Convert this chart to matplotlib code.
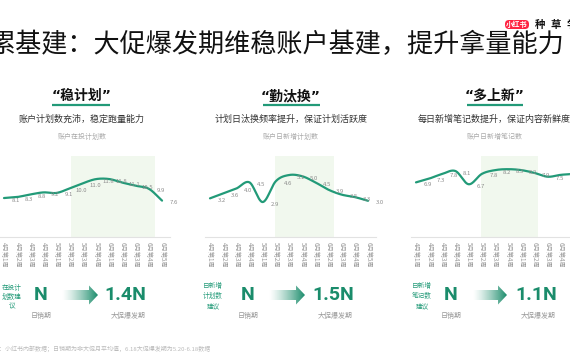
import numpy as np
import matplotlib
matplotlib.use('Agg')
import matplotlib.pyplot as plt
from matplotlib.patches import Polygon, FancyBboxPatch
from matplotlib.colors import to_rgb

plt.rcParams['font.family'] = ['Noto Sans CJK SC', 'DejaVu Sans']

# ---------------- data ----------------
weeks = ['4月第1周', '4月第2周', '4月第3周', '4月第4周',
         '5月第1周', '5月第2周', '5月第3周', '5月第4周',
         '6月第1周', '6月第2周', '6月第3周', '6月第4周', '6月第5周']
plan_count = [8.1, 8.3, 8.8, 9.2, 9.1, 10.0, 11.0, 11.8, 11.8, 11.1, 10.5, 9.9, 7.6]
new_plans = [3.2, 3.6, 4.0, 4.5, 2.9, 4.6, 5.1, 5.0, 4.5, 3.9, 3.5, 3.3, 3.0]
new_notes = [6.9, 7.3, 7.8, 8.1, 6.7, 7.8, 8.2, 8.3, 8.2, 7.9, 7.5, 7.7, 7.8]

headings = ['“稳计划”', '“勤汰换”', '“多上新”']
subtitles = ['账户计划数充沛，稳定跑量能力',
             '计划日汰换频率提升，保证计划活跃度',
             '每日新增笔记数提升，保证内容新鲜度']
chart_titles = ['账户在投计划数', '账户日新增计划数', '账户日新增笔记数']
side_labels = [['在投计', '划数建', '议'], ['日新增', '计划数', '建议'], ['日新增', '笔记数', '建议']]
base_value = ['N', 'N', 'N']
peak_value = ['1.4N', '1.5N', '1.1N']
base_label = '日销期'
peak_label = '大促爆发期'
title = '累基建：大促爆发期维稳账户基建，提升拿量能力'
footer = '：小红书内部数据；日销期为非大促月平均值，6.18大促爆发期为5.20-6.18数据'

# ---------------- layout ----------------
W, H = 570, 360
GREEN = '#229A78'
DGREEN = '#1A8C6B'
SHADE = '#F1F8EE'

fig = plt.figure(figsize=(W / 100, H / 100), dpi=100)
fig.patch.set_facecolor('white')

series = [plan_count, new_plans, new_notes]
ylims = [(0.5, 16.3), (0.05, 6.65), (1.1, 9.7)]
spans = [(5.1, 11.5), (4.9, 9.4), (4.9, 9.3)]
tick0 = [4, 210, 416]
step = 13.17
ax_top, ax_bot = 156, 237


def smooth(y, n=24):
    y = np.asarray(y, float)
    x = np.arange(len(y), dtype=float)
    m = np.zeros_like(y)
    m[1:-1] = (y[2:] - y[:-2]) / 2
    m[0] = y[1] - y[0]
    m[-1] = y[-1] - y[-2]
    xs, ys = [], []
    t = np.linspace(0, 1, n, endpoint=False)
    h00 = 2 * t**3 - 3 * t**2 + 1
    h10 = t**3 - 2 * t**2 + t
    h01 = -2 * t**3 + 3 * t**2
    h11 = t**3 - t**2
    for i in range(len(y) - 1):
        ys.append(h00 * y[i] + h10 * m[i] + h01 * y[i + 1] + h11 * m[i + 1])
        xs.append(x[i] + t)
    xs.append([x[-1]])
    ys.append([y[-1]])
    return np.concatenate(xs), np.concatenate(ys)


for k in range(3):
    left = tick0[k] - 0.4 * step
    ax = fig.add_axes([left / W, 1 - ax_bot / H, 13 * step / W, (ax_bot - ax_top) / H])
    ax.set_xlim(-0.4, 12.6)
    ax.set_ylim(*ylims[k])
    ax.axvspan(spans[k][0], spans[k][1], color=SHADE, lw=0, zorder=0)
    vals = series[k]
    xs, ys = smooth(vals)
    ax.plot(xs, ys, color=GREEN, lw=1.6, solid_capstyle='round', zorder=3)
    for i, v in enumerate(vals):
        ax.annotate(f'{v:.1f}', (i, v), xytext=(8.5, -1.5), textcoords='offset points',
                    ha='center', va='center', fontsize=4.3, color='#8c8c8c', zorder=4)
    ax.set_xticks(range(len(weeks)))
    ax.set_xticklabels(weeks, rotation=-90, fontsize=4.5, color='#999999')
    ax.tick_params(axis='x', length=0, pad=3.6)
    ax.set_yticks([])
    for s in ['top', 'left', 'right']:
        ax.spines[s].set_visible(False)
    ax.spines['bottom'].set_color('#E2E2E2')
    ax.spines['bottom'].set_linewidth(0.8)
    ax.patch.set_alpha(0)

# overlay in pixel coordinates
ov = fig.add_axes([0, 0, 1, 1], zorder=10)
ov.set_xlim(0, W)
ov.set_ylim(H, 0)
ov.axis('off')
ov.patch.set_alpha(0)

ov.text(564, 45, title, ha='right', va='center', fontsize=18.8, color='#111111')

# logo
ov.add_patch(FancyBboxPatch((505, 20), 24, 9, boxstyle='round,pad=0,rounding_size=4',
                            fc='#FF2442', ec='none'))
ov.text(517, 24.7, '小红书', ha='center', va='center', fontsize=5.2, color='white', weight='bold')
for cx, ch in zip([540, 556, 572], '种草学'):
    ov.text(cx, 25, ch, ha='center', va='center', fontsize=7.5, color='#111111', weight='bold')

head_cx = [82, 291, 495]
under = [(52, 110), (263, 320), (467, 523)]
sub_cx = [82, 291, 494]
for k in range(3):
    ov.text(head_cx[k], 96, headings[k], ha='center', va='center', fontsize=10,
            weight='bold', color='#111111', family=['DejaVu Sans', 'Noto Sans CJK SC'])
    ov.plot(under[k], [105, 105], color=GREEN, lw=1.6, solid_capstyle='butt')
    ov.text(sub_cx[k], 119, subtitles[k], ha='center', va='center', fontsize=6.5, color='#333333')
    ov.text(head_cx[k], 137, chart_titles[k], ha='center', va='center', fontsize=5, color='#aaaaaa')

# bottom comparison row
side_cx = [12, 213, 422]
side_ys = [[288, 297, 306], [286, 296, 306], [286, 296, 306]]
n_cx = [41, 248, 451]
arrows = [(62, 98), (269, 305), (473, 507)]
p_cx = [125, 333, 536]
pl_cx = [128, 335, 538]


def grad_arrow(x0, x1, yc):
    head_len = 9
    xb = x1 - head_len
    verts = [(x0, yc - 5), (xb, yc - 5), (xb, yc - 9.5), (x1, yc), (xb, yc + 9.5),
             (xb, yc + 5), (x0, yc + 5)]
    poly = Polygon(verts, closed=True, fc='none', ec='none')
    ov.add_patch(poly)
    g = np.linspace(0, 1, 256)
    rgba = np.zeros((1, 256, 4))
    rgba[..., :3] = to_rgb(DGREEN)
    rgba[..., 3] = g ** 1.3
    im = ov.imshow(rgba, extent=(x0, x1, yc + 10, yc - 10), aspect='auto',
                   interpolation='bilinear', zorder=5)
    im.set_clip_path(poly)


for k in range(3):
    for line, yy in zip(side_labels[k], side_ys[k]):
        ov.text(side_cx[k], yy, line, ha='center', va='center', fontsize=4.8, color=GREEN)
    ov.text(n_cx[k], 295, base_value[k], ha='center', va='center', fontsize=14,
            weight='bold', color=DGREEN, family='Roboto')
    ov.text(n_cx[k], 316, base_label, ha='center', va='center', fontsize=5, color='#999999')
    grad_arrow(arrows[k][0], arrows[k][1], 295)
    ov.text(p_cx[k], 295, peak_value[k], ha='center', va='center', fontsize=14,
            weight='bold', color=DGREEN, family='Roboto')
    ov.text(pl_cx[k], 316, peak_label, ha='center', va='center', fontsize=5, color='#999999')

ov.text(-1, 349, footer, ha='left', va='center', fontsize=4.3, color='#bbbbbb')

ov.set_xlim(0, W)
ov.set_ylim(H, 0)

fig.savefig('out.png', dpi=100)
